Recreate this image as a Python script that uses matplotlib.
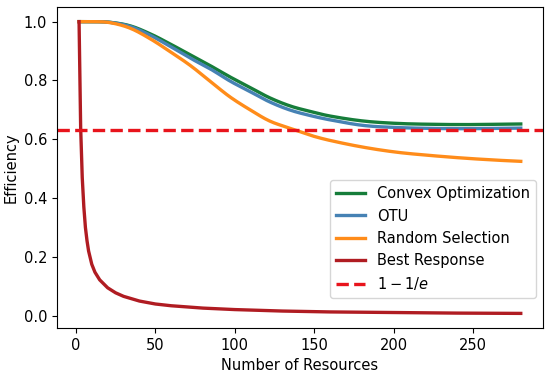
import numpy as np
import matplotlib
matplotlib.use('Agg')
import matplotlib.pyplot as plt

# values
x_smooth = [2, 10, 21, 34, 47, 59, 72, 85, 97, 110, 122, 135, 148, 160,
            181, 202, 223, 244, 265, 280]
convex = [1.0, 1.0, 0.998, 0.986, 0.958, 0.925, 0.887, 0.849, 0.812, 0.775,
          0.741, 0.713, 0.694, 0.679, 0.662, 0.654, 0.651, 0.650, 0.651, 0.652]
otu = [1.0, 1.0, 0.998, 0.984, 0.953, 0.917, 0.876, 0.838, 0.798, 0.761,
       0.727, 0.699, 0.680, 0.666, 0.647, 0.640, 0.637, 0.636, 0.637, 0.638]
random_sel = [1.0, 1.0, 0.997, 0.978, 0.941, 0.899, 0.851, 0.795, 0.744, 0.699,
              0.662, 0.637, 0.613, 0.596, 0.573, 0.556, 0.545, 0.536, 0.529, 0.525]

x_best = [2, 3, 4, 5, 6, 7, 8, 10, 12, 15, 20, 25, 30, 40, 50, 60, 80, 100,
          130, 160, 200, 240, 280]
best = [1.0, 0.64, 0.47, 0.37, 0.30, 0.255, 0.22, 0.175, 0.148, 0.122, 0.095,
        0.078, 0.066, 0.050, 0.040, 0.034, 0.026, 0.021, 0.016, 0.013, 0.011,
        0.009, 0.008]

bound = 1 - 1 / np.e


def smooth(xs, ys, n=300):
    # cubic hermite resampling through the read points, avoids kinks
    xs = np.asarray(xs, float)
    ys = np.asarray(ys, float)
    xn = np.linspace(xs[0], xs[-1], n)
    out = []
    for xv in xn:
        i = min(np.searchsorted(xs, xv, side='right') - 1, len(xs) - 2)
        x0, x1 = xs[i], xs[i + 1]
        t = (xv - x0) / (x1 - x0)
        y0, y1 = ys[i], ys[i + 1]
        m0 = (ys[i + 1] - ys[i - 1]) / (xs[i + 1] - xs[i - 1]) if i > 0 else (y1 - y0) / (x1 - x0)
        m1 = (ys[i + 2] - ys[i]) / (xs[i + 2] - xs[i]) if i + 2 < len(xs) else (y1 - y0) / (x1 - x0)
        h = x1 - x0
        h00 = 2 * t**3 - 3 * t**2 + 1
        h10 = t**3 - 2 * t**2 + t
        h01 = -2 * t**3 + 3 * t**2
        h11 = t**3 - t**2
        out.append(h00 * y0 + h10 * h * m0 + h01 * y1 + h11 * h * m1)
    return xn, np.array(out)


fig, ax = plt.subplots(figsize=(5.5, 3.78), dpi=100)
fig.subplots_adjust(left=0.1036, right=0.987, top=0.9815, bottom=0.1323)

fs = 10.5
lw = 2.4
ax.plot(*smooth(x_smooth, convex), color='#167d3a', lw=lw, label='Convex Optimization')
ax.plot(*smooth(x_smooth, otu), color='#4682b4', lw=lw, label='OTU')
ax.plot(*smooth(x_smooth, random_sel), color='#ff8c1a', lw=lw, label='Random Selection')
ax.plot(x_best, best, color='#b01c22', lw=lw, label='Best Response')
ax.axhline(bound, color='#e8141c', lw=lw, ls='--', label=r'$1-1/e$')

ax.set_xlabel('Number of Resources', fontsize=fs)
ax.set_ylabel('Efficiency', fontsize=fs)
ax.tick_params(labelsize=fs)
ax.set_xticks([0, 50, 100, 150, 200, 250])
ax.set_yticks([0.0, 0.2, 0.4, 0.6, 0.8, 1.0])

ax.legend(loc='lower right', bbox_to_anchor=(1.0, 0.07), fontsize=fs)

plt.savefig('out.png')
